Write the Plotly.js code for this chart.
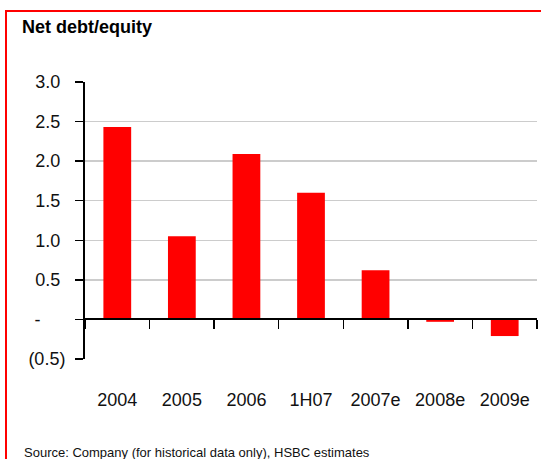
<!DOCTYPE html>
<html>
<head>
<meta charset="utf-8">
<script src="https://cdn.plot.ly/plotly-3.0.1.min.js"></script>
<style>
  html, body { margin: 0; padding: 0; background: #fff; }
  #wrap { position: relative; width: 541px; height: 459px; overflow: hidden; }
  #chart { position: absolute; left: 0; top: 0; width: 541px; height: 459px; }
  #frame { position: absolute; left: 5px; top: 10px; width: 600px; height: 600px;
           border-left: 2px solid #ff0000; border-top: 2px solid #ff0000; pointer-events: none; }
</style>
</head>
<body>
<div id="wrap">
  <div id="chart"></div>
  <div id="frame"></div>
</div>
<script>
const categories = ["2004", "2005", "2006", "1H07", "2007e", "2008e", "2009e"];
const netDebtEquity = [2.43, 1.05, 2.09, 1.60, 0.62, -0.03, -0.21];
const yTickValues = [-0.5, 0, 0.5, 1.0, 1.5, 2.0, 2.5, 3.0];
const yTickLabels = ["(0.5)", "-\u00a0\u00a0\u00a0\u00a0\u00a0", "0.5\u00a0", "1.0\u00a0", "1.5\u00a0", "2.0\u00a0", "2.5\u00a0", "3.0\u00a0"];
const chartTitle = "Net debt/equity";
const sourceNote = "Source: Company (for historical data only), HSBC estimates";

const FONT = "'Arial Narrow', 'Liberation Sans Narrow', 'Liberation Sans', Arial, sans-serif";

const yMin = -0.5, yMax = 3.0;

const traces = [
  {
    type: "bar",
    x: categories,
    y: netDebtEquity,
    xaxis: "x",
    yaxis: "y",
    marker: { color: "#ff0000", line: { width: 0 } },
    hoverinfo: "x+y",
    showlegend: false
  },
  {
    type: "bar",
    x: categories,
    y: netDebtEquity,
    xaxis: "x2",
    yaxis: "y",
    marker: { color: "rgba(0,0,0,0)", line: { width: 0 } },
    hoverinfo: "skip",
    showlegend: false
  }
];

const layout = {
  width: 541,
  height: 459,
  margin: { l: 85, r: 4, t: 81.5, b: 100, pad: 0 },
  paper_bgcolor: "#ffffff",
  plot_bgcolor: "#ffffff",
  bargap: 0.57,
  font: { family: FONT, size: 18, color: "#111111" },
  title: {
    text: "<b>" + chartTitle + "</b>",
    font: { family: FONT, size: 18, color: "#000000" },
    xref: "container", yref: "container",
    x: 22 / 541, xanchor: "left",
    y: 1 - 20 / 459, yanchor: "top"
  },
  xaxis: {
    type: "category",
    categoryorder: "array",
    categoryarray: categories,
    range: [-0.5, categories.length - 0.5],
    showline: false,
    showgrid: false,
    zeroline: false,
    ticks: "",
    ticklabelstandoff: 28,
    tickfont: { family: FONT, size: 18, color: "#111111" },
    fixedrange: true
  },
  xaxis2: {
    type: "category",
    overlaying: "x",
    anchor: "free",
    position: (0 - yMin) / (yMax - yMin),
    categoryorder: "array",
    categoryarray: categories,
    range: [-0.5, categories.length - 0.5],
    showline: true,
    linecolor: "#000000",
    linewidth: 2,
    showgrid: false,
    zeroline: false,
    ticks: "outside",
    tickson: "boundaries",
    ticklen: 9,
    tickwidth: 1.5,
    tickcolor: "#000000",
    showticklabels: false,
    layer: "above traces",
    fixedrange: true
  },
  yaxis: {
    range: [yMin, yMax],
    tickmode: "array",
    tickvals: yTickValues,
    ticktext: yTickLabels,
    showline: true,
    linecolor: "#000000",
    linewidth: 2,
    ticks: "outside",
    ticklen: 8,
    tickwidth: 1.5,
    tickcolor: "#000000",
    showgrid: true,
    gridcolor: "#cccccc",
    gridwidth: 1.5,
    zeroline: false,
    ticklabelstandoff: 6,
    tickfont: { family: FONT, size: 18, color: "#111111" },
    fixedrange: true
  },
  annotations: [
    {
      text: sourceNote,
      xref: "paper", yref: "paper",
      x: (22 - 85) / 452, xanchor: "left",
      y: (359 - 443) / 277.5, yanchor: "top",
      showarrow: false,
      font: { family: FONT, size: 13, color: "#111111" }
    }
  ]
};

Plotly.newPlot("chart", traces, layout, { displayModeBar: false, staticPlot: true });
</script>
</body>
</html>
